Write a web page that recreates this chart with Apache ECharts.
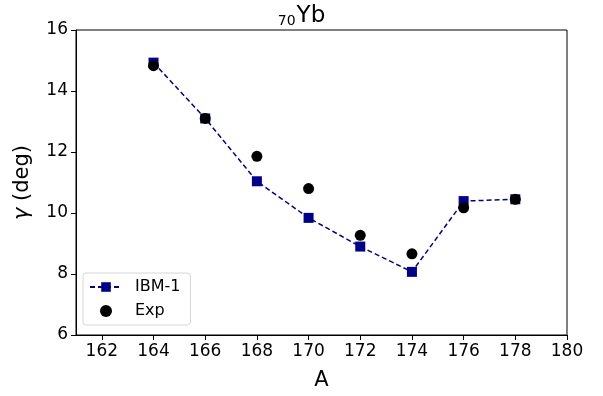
<!DOCTYPE html>
<html>
<head>
<meta charset="utf-8">
<script src="https://cdn.jsdelivr.net/npm/echarts@6/dist/echarts.min.js"></script>
<style>
  html, body { margin: 0; padding: 0; background: #fff; }
  #chart { width: 603px; height: 396px; }
</style>
</head>
<body>
<div id="chart"></div>
<script>
// mass numbers and gamma values (deg)
const massNumbers = [164, 166, 168, 170, 172, 174, 176, 178];
const ibmValues = [14.93, 13.10, 11.04, 9.84, 8.90, 8.07, 10.39, 10.45];
const expValues = [14.83, 13.10, 11.86, 10.80, 9.27, 8.66, 10.17, 10.45];
const xTicks = [162, 164, 166, 168, 170, 172, 174, 176, 178, 180];
const yTicks = [6, 8, 10, 12, 14, 16];

const font = 'DejaVu Sans';
const chart = echarts.init(document.getElementById('chart'));

const pairs = (vals) => massNumbers.map((a, i) => [a, vals[i]]);

chart.setOption({
    animation: false,
    textStyle: { fontFamily: font, color: '#000' },
    title: {
        text: '{sub|70}{main|Yb}',
        left: 'center',
        top: 0,
        textStyle: {
            fontWeight: 'normal',
            rich: {
                sub: { fontFamily: font, fontSize: 14, fontWeight: 'normal', color: '#000', padding: [9, 1, 0, 0] },
                main: { fontFamily: font, fontSize: 23, fontWeight: 'normal', color: '#000' }
            }
        }
    },
    grid: { left: 76, right: 36, top: 30, bottom: 61, show: true, borderColor: '#000', borderWidth: 1 },
    legend: {
        orient: 'vertical',
        left: 83,
        top: 273,
        padding: [6, 10, 6, 6],
        itemGap: 8,
        itemWidth: 32,
        itemHeight: 12,
        borderColor: '#d6d6d6',
        borderWidth: 1,
        borderRadius: 3,
        backgroundColor: 'rgba(255,255,255,0.8)',
        textStyle: { fontFamily: font, fontSize: 16, color: '#000', padding: [0, 0, 0, 8] },
        data: ['IBM-1', 'Exp']
    },
    xAxis: {
        type: 'value',
        min: 161,
        max: 180,
        name: 'A',
        nameLocation: 'middle',
        nameGap: 35,
        nameTextStyle: { fontFamily: font, fontSize: 21, color: '#000' },
        axisLine: { show: true, lineStyle: { color: '#000', width: 1 } },
        axisTick: { show: true, inside: false, length: 5, customValues: xTicks, lineStyle: { color: '#000' } },
        axisLabel: { fontFamily: font, fontSize: 17, color: '#000', margin: 8, customValues: xTicks },
        splitLine: { show: false }
    },
    yAxis: {
        type: 'value',
        min: 6,
        max: 16,
        interval: 2,
        name: '{g|γ} (deg)',
        nameLocation: 'middle',
        nameGap: 43,
        nameRotate: 90,
        nameTextStyle: {
            fontFamily: font, fontSize: 21, color: '#000',
            rich: { g: { fontFamily: font, fontSize: 21, fontStyle: 'italic', color: '#000' } }
        },
        axisLine: { show: true, lineStyle: { color: '#000', width: 1 } },
        axisTick: { show: true, inside: false, length: 5, lineStyle: { color: '#000' } },
        axisLabel: { fontFamily: font, fontSize: 17, color: '#000', margin: 8, customValues: yTicks },
        splitLine: { show: false }
    },
    series: [
        {
            name: 'IBM-1',
            type: 'line',
            data: pairs(ibmValues),
            symbol: 'rect',
            symbolSize: 10,
            itemStyle: { color: '#00008b', opacity: 1 },
            lineStyle: { color: '#00008b', width: 1.5, type: [5, 3] },
            z: 2
        },
        {
            name: 'Exp',
            type: 'scatter',
            data: pairs(expValues),
            symbol: 'circle',
            symbolSize: 11,
            itemStyle: { color: '#000', opacity: 1 },
            z: 3
        }
    ]
});
</script>
</body>
</html>
